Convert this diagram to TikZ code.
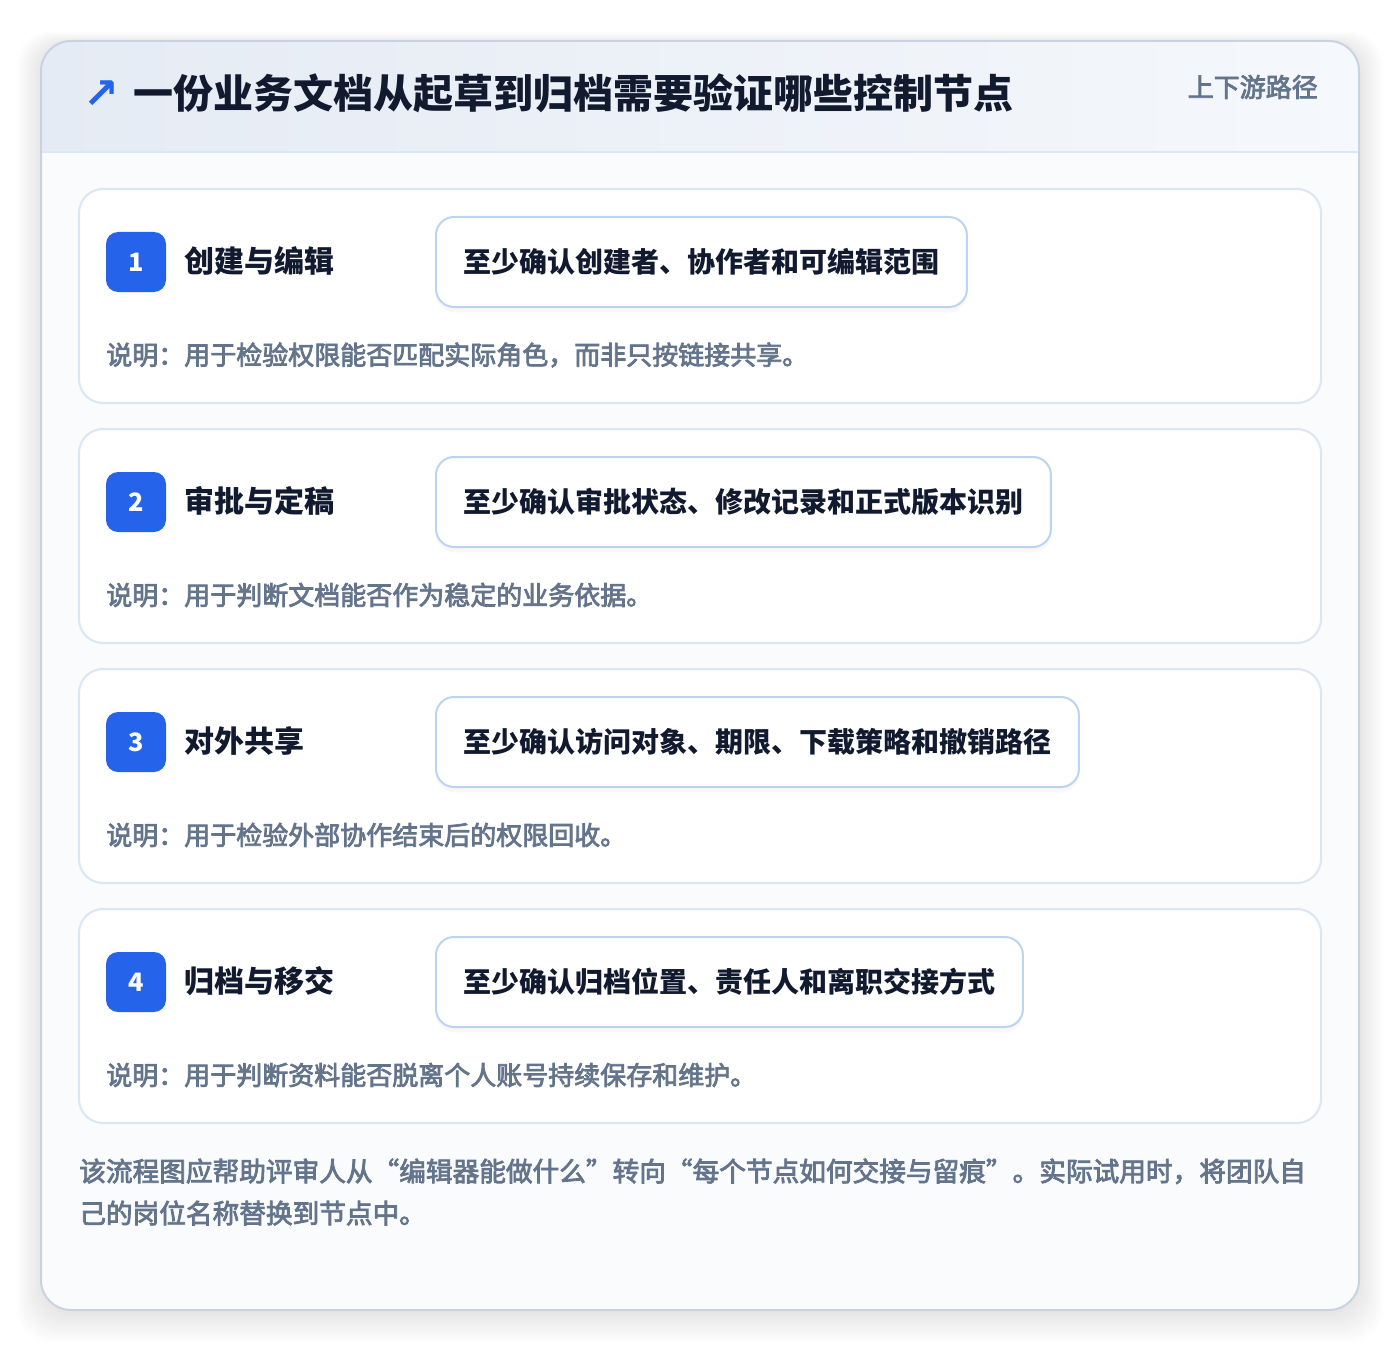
\documentclass[tikz,border=0pt]{standalone}
\usepackage{fontspec}
\setmainfont{Noto Sans CJK SC}
\newfontfamily\medfont{Noto Sans CJK SC}[FakeBold=3]
\newfontfamily\symfont{DejaVu Sans}
\usetikzlibrary{shadows}
\definecolor{cardbg}{HTML}{FAFBFD}
\definecolor{hdrL}{HTML}{E5EBF4}
\definecolor{hdrR}{HTML}{F5F8FC}
\definecolor{hdrline}{HTML}{DCE7F5}
\definecolor{outerline}{HTML}{C9D3E0}
\definecolor{cardline}{HTML}{DBE6F4}
\definecolor{pillline}{HTML}{BCD4F2}
\definecolor{accent}{HTML}{2563EB}
\definecolor{ink}{HTML}{111A2E}
\definecolor{muted}{HTML}{64748B}
\tikzset{
  cardbox/.style={draw=cardline, line width=1.5pt, fill=white, rounded corners=18pt},
  badge/.style={fill=accent, text=white, rounded corners=9pt, minimum width=45pt, minimum height=45pt, inner sep=0pt, font=\fontsize{19}{22}\selectfont\bfseries},
  steptitle/.style={text=ink, inner sep=0pt, font=\fontsize{22.5}{26}\selectfont\bfseries},
  pill/.style={draw=pillline, line width=1.5pt, fill=white, rounded corners=13.5pt, inner xsep=20.6pt, inner ysep=0pt, minimum height=67.5pt, text=ink, font=\fontsize{21}{25}\selectfont\bfseries, drop shadow={opacity=0.05, shadow xshift=0pt, shadow yshift=-4pt}},
  desc/.style={text=muted, inner sep=0pt, font=\medfont\fontsize{19.5}{23}\selectfont},
  footnote/.style={text=muted, inner sep=0pt, align=left, font=\medfont\fontsize{20}{31.5}\selectfont}
}
\begin{document}
\begin{tikzpicture}[x=0.75pt,y=-0.75pt]
\useasboundingbox (0,0) rectangle (1400,1352);
\fill[white] (0,0) rectangle (1400,1352);
% soft shadow of the outer card
\foreach \i in {1,...,12} {
  \fill[black, opacity=0.006, rounded corners=24pt] (41-2*\i,44-1*\i) rectangle (1359+2*\i,1312+2.5*\i);
}
% outer card
\fill[cardbg, rounded corners=22.5pt] (41,41) rectangle (1359,1310);
\begin{scope}
  \clip[rounded corners=22.5pt] (41,41) rectangle (1359,1310);
  \shade[left color=hdrL, right color=hdrR] (41,41) rectangle (1359,152);
\end{scope}
\draw[hdrline, line width=1.5pt] (41,152) -- (1359,152);
\draw[outerline, line width=1.5pt, rounded corners=22.5pt] (41,41) rectangle (1359,1310);
% header
\node[anchor=west, text=accent, inner sep=0pt, font=\symfont\fontsize{32}{32}\selectfont\bfseries] (arrow) at (83,95) {↗};
\node[anchor=west, text=ink, inner sep=0pt, font=\fontsize{30}{34}\selectfont\bfseries] (title) at (133,93) {一份业务文档从起草到归档需要验证哪些控制节点};
\node[anchor=east, text=muted, inner sep=0pt, font=\medfont\fontsize{19.5}{23}\selectfont] (tag) at (1318,87) {上下游路径};
% step cards
\foreach \n/\y/\t/\p/\d in {
  1/189/创建与编辑/至少确认创建者、协作者和可编辑范围/说明：用于检验权限能否匹配实际角色，而非只按链接共享。,
  2/429/审批与定稿/至少确认审批状态、修改记录和正式版本识别/说明：用于判断文档能否作为稳定的业务依据。,
  3/669/对外共享/至少确认访问对象、期限、下载策略和撤销路径/说明：用于检验外部协作结束后的权限回收。,
  4/909/归档与移交/至少确认归档位置、责任人和离职交接方式/说明：用于判断资料能否脱离个人账号持续保存和维护。} {
  \draw[cardbox] (79,\y) rectangle (1321,\y+214);
  \node[badge] (badge\n) at (136,\y+73) {\n};
  \node[steptitle, anchor=west] (title\n) at (184,\y+72) {\t};
  \node[pill, anchor=west] (pill\n) at (435,\y+73) {\p};
  \node[desc, anchor=west] (desc\n) at (106,\y+166) {\d};
}
% footer note
\node[footnote, anchor=west] (note) at (79,1192) {该流程图应帮助评审人从“编辑器能做什么”转向“每个节点如何交接与留痕”。实际试用时，将团队自\\己的岗位名称替换到节点中。};
\end{tikzpicture}
\end{document}
